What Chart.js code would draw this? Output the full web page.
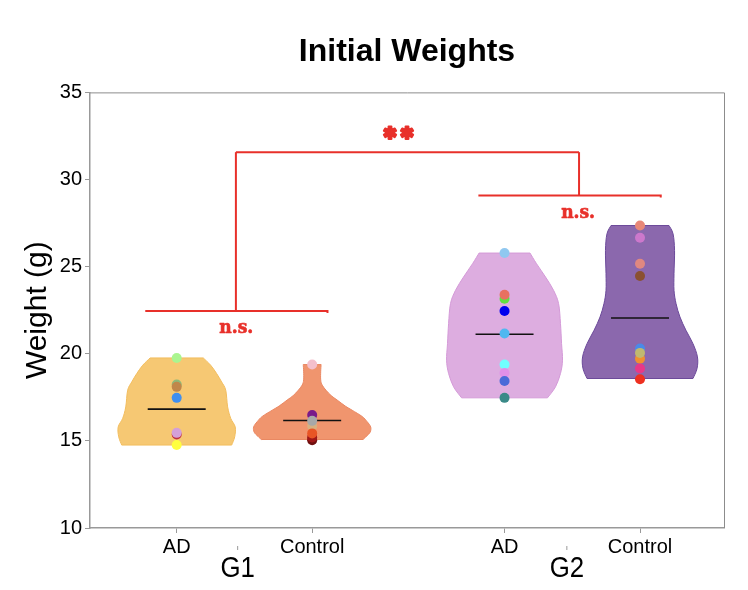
<!DOCTYPE html>
<html>
<head>
<meta charset="utf-8">
<script src="https://cdn.jsdelivr.net/npm/chart.js@4.4.1/dist/chart.umd.min.js"></script>
<style>
html,body{margin:0;padding:0;background:#fff;}
#wrap{width:748px;height:590px;}
</style>
</head>
<body>
<div id="wrap"><canvas id="c" width="748" height="590"></canvas></div>
<script>
// ---- data ----
const categories = ['AD', 'Control', 'AD', 'Control'];
const categoryPos = [1, 2, 3.42, 4.42];
const groupLabels = ['G1', 'G2'];
const groupPos = [1.45, 3.88];
const yTicks = [10, 15, 20, 25, 30, 35];

// individual animal weights (g)
const g1AD = [19.76, 18.24, 18.10, 17.47, 15.37, 15.46, 14.76];
const g1ADColors = ['#aaf590', '#8fb878', '#c0864a', '#3f8ff0', '#c03040', '#d4a0d8', '#ffff40'];
const g1Ctrl = [19.38, 16.48, 15.86, 16.15, 15.04, 15.20, 15.43];
const g1CtrlColors = ['#f4c0cc', '#7a1a8a', '#d8b080', '#a8a8a8', '#701010', '#a01818', '#e85525'];
const g2AD = [25.78, 23.16, 23.39, 22.45, 21.16, 19.38, 18.90, 18.44, 17.47];
const g2ADColors = ['#90c8f0', '#60e040', '#e87060', '#0000ee', '#50b8f0', '#70ffff', '#e090e8', '#4a6ad8', '#3a8a88'];
const g2Ctrl = [27.36, 26.66, 25.17, 24.46, 20.30, 19.72, 20.05, 19.15, 18.54];
const g2CtrlColors = ['#e88878', '#cc78cc', '#e08880', '#8a5030', '#4a8ae8', '#f09030', '#c0b870', '#e83888', '#ee3020'];

// violin outlines: weight levels and half-width (density)
const vG1ADw = [19.76, 19.34, 18.86, 18.38, 17.91, 16.95, 16.29, 15.80, 15.23, 14.76];
const vG1ADd = [0.196, 0.251, 0.295, 0.332, 0.362, 0.376, 0.399, 0.432, 0.428, 0.406];
const vG1Cw = [19.38, 19.0, 18.5, 18.2, 17.9, 17.6, 17.34, 17.0, 16.76, 16.4, 16.1, 15.8, 15.5, 15.25, 15.08];
const vG1Cd = [0.066, 0.063, 0.063, 0.074, 0.103, 0.140, 0.185, 0.244, 0.295, 0.369, 0.406, 0.432, 0.428, 0.399, 0.376];
const vG2ADw = [25.78, 25.17, 24.40, 23.64, 22.88, 21.73, 20.58, 19.63, 18.87, 18.10, 17.47];
const vG2ADd = [0.188, 0.236, 0.303, 0.362, 0.399, 0.413, 0.421, 0.428, 0.413, 0.376, 0.317];
const vG2Cw = [27.36, 26.88, 25.93, 24.60, 23.64, 22.88, 22.11, 21.35, 20.58, 19.82, 19.15, 18.58];
const vG2Cd = [0.214, 0.244, 0.255, 0.251, 0.251, 0.266, 0.295, 0.339, 0.391, 0.424, 0.421, 0.391];

const centerLines = [16.82, 16.17, 21.12, 22.05];

// significance brackets (x from, x to, y level) and labels
const brackets = [
  {x1: 0.768, x2: 2.113, y: 22.45, stem: 1.437, label: 'n.s.', lx: 1.44, ly: 21.50},
  {x1: 3.227, x2: 4.573, y: 29.08, stem: 3.97, label: 'n.s.', lx: 3.963, ly: 28.05}
];
const topBracket = {y: 31.57, label: '\u2731', lx: [2.573, 2.699], ly: 32.56};

// ---- styles ----
const violinFill = ['#f6c873', '#f0956e', '#ddade0', '#8b68ad'];
const violinEdge = ['#f2bd5e', '#ea8863', '#d49ad8', '#6c4a9a'];
const sigColor = '#e8302a';
const FONT = "'Liberation Sans', Arial, sans-serif";

const violins = [
  {pos: categoryPos[0], w: vG1ADw, d: vG1ADd},
  {pos: categoryPos[1], w: vG1Cw, d: vG1Cd},
  {pos: categoryPos[2], w: vG2ADw, d: vG2ADd},
  {pos: categoryPos[3], w: vG2Cw, d: vG2Cd}
];
const pointSets = [[g1AD, g1ADColors], [g1Ctrl, g1CtrlColors], [g2AD, g2ADColors], [g2Ctrl, g2CtrlColors]];

function spline(ctx, pts) {
  for (let i = 0; i < pts.length - 1; i++) {
    const p0 = pts[i - 1] || pts[i], p1 = pts[i], p2 = pts[i + 1], p3 = pts[i + 2] || pts[i + 1];
    ctx.bezierCurveTo(p1[0] + (p2[0] - p0[0]) / 6, p1[1] + (p2[1] - p0[1]) / 6,
                      p2[0] - (p3[0] - p1[0]) / 6, p2[1] - (p3[1] - p1[1]) / 6, p2[0], p2[1]);
  }
}

const violinPlugin = {
  id: 'violins',
  beforeDatasetsDraw(chart) {
    const {ctx, scales: {x, y}} = chart;
    ctx.save();
    violins.forEach((v, k) => {
      const R = v.w.map((w, i) => [x.getPixelForValue(v.pos + v.d[i]), y.getPixelForValue(w)]);
      const L = v.w.map((w, i) => [x.getPixelForValue(v.pos - v.d[i]), y.getPixelForValue(w)]).reverse();
      ctx.beginPath();
      ctx.moveTo(L[L.length - 1][0], L[L.length - 1][1]);
      ctx.lineTo(R[0][0], R[0][1]);
      spline(ctx, R);
      ctx.lineTo(L[0][0], L[0][1]);
      spline(ctx, L);
      ctx.closePath();
      ctx.fillStyle = violinFill[k];
      ctx.fill();
      ctx.lineWidth = 1;
      ctx.strokeStyle = violinEdge[k];
      ctx.stroke();
      // center line
      const yy = y.getPixelForValue(centerLines[k]);
      ctx.beginPath();
      ctx.moveTo(x.getPixelForValue(v.pos - 0.214), yy);
      ctx.lineTo(x.getPixelForValue(v.pos + 0.214), yy);
      ctx.strokeStyle = '#111';
      ctx.lineWidth = 1.6;
      ctx.stroke();
    });
    ctx.restore();
  },
  afterDatasetsDraw(chart) {
    const {ctx, chartArea: a, scales: {x, y}} = chart;
    ctx.save();
    // frame top/right
    ctx.strokeStyle = '#8c8c8c';
    ctx.lineWidth = 1;
    ctx.beginPath();
    ctx.moveTo(a.left, a.top + 0.5);
    ctx.lineTo(a.right + 0.5, a.top + 0.5);
    ctx.lineTo(a.right + 0.5, a.bottom);
    ctx.stroke();
    // brackets
    ctx.strokeStyle = sigColor;
    ctx.lineWidth = 2;
    const ty = y.getPixelForValue(topBracket.y);
    brackets.forEach(b => {
      const by = y.getPixelForValue(b.y);
      ctx.beginPath();
      ctx.moveTo(x.getPixelForValue(b.x1), by);
      ctx.lineTo(x.getPixelForValue(b.x2), by);
      ctx.lineTo(x.getPixelForValue(b.x2), by + 2);
      ctx.stroke();
      ctx.beginPath();
      ctx.moveTo(x.getPixelForValue(b.stem), by);
      ctx.lineTo(x.getPixelForValue(b.stem), ty);
      ctx.stroke();
    });
    ctx.beginPath();
    ctx.moveTo(x.getPixelForValue(brackets[0].stem), ty);
    ctx.lineTo(x.getPixelForValue(brackets[1].stem), ty);
    ctx.stroke();
    ctx.fillStyle = sigColor;
    ctx.textAlign = 'center';
    ctx.textBaseline = 'middle';
    ctx.font = "bold 19px 'DejaVu Serif Condensed', 'DejaVu Serif', serif";
    ctx.lineWidth = 0.6;
    ctx.lineJoin = 'round';
    brackets.forEach(b => {
      const tx = x.getPixelForValue(b.lx), tyy = y.getPixelForValue(b.ly);
      ctx.fillText(b.label, tx, tyy);
      ctx.strokeText(b.label, tx, tyy);
    });
    ctx.font = "17px 'DejaVu Sans', sans-serif";
    ctx.lineWidth = 2.2;
    topBracket.lx.forEach(lx => {
      const tx = x.getPixelForValue(lx), tyy = y.getPixelForValue(topBracket.ly);
      ctx.fillText(topBracket.label, tx, tyy);
      ctx.strokeText(topBracket.label, tx, tyy);
    });
    // group labels
    ctx.fillStyle = '#000';
    ctx.font = '30px ' + FONT;
    ctx.textBaseline = 'alphabetic';
    groupLabels.forEach((g, i) => {
      const gx = x.getPixelForValue(groupPos[i]);
      ctx.strokeStyle = '#999';
      ctx.lineWidth = 1;
      ctx.beginPath();
      ctx.moveTo(gx, a.bottom + 18);
      ctx.lineTo(gx, a.bottom + 22);
      ctx.stroke();
      ctx.save();
      ctx.translate(gx, a.bottom + 49);
      ctx.scale(0.86, 1);
      ctx.fillText(g, 0, 0);
      ctx.restore();
    });
    ctx.restore();
  }
};

const datasets = pointSets.map((ps, k) => ({
  data: ps[0].map(w => ({x: categoryPos[k], y: w})),
  backgroundColor: ps[1],
  pointRadius: 5,
  pointBorderWidth: 0,
  pointHoverRadius: 5
}));

new Chart(document.getElementById('c'), {
  type: 'scatter',
  data: {datasets},
  plugins: [violinPlugin],
  options: {
    responsive: false,
    animation: false,
    layout: {padding: {left: 0, right: 24, top: 0, bottom: 0}},
    plugins: {
      legend: {display: false},
      tooltip: {enabled: false},
      title: {
        display: true,
        fullSize: false,
        text: 'Initial Weights',
        color: '#000',
        font: {family: FONT, size: 32, weight: 'bold', lineHeight: 1.2},
        padding: {top: 33, bottom: 21}
      }
    },
    scales: {
      x: {
        type: 'linear',
        min: 0.36,
        max: 5.04,
        afterBuildTicks: s => { s.ticks = categoryPos.map(v => ({value: v})); },
        afterFit: s => { s.height = 62; },
        ticks: {
          callback: (v, i) => categories[i],
          color: '#000',
          font: {family: FONT, size: 20},
          padding: 2,
          autoSkip: false,
          maxRotation: 0
        },
        grid: {drawOnChartArea: false, drawTicks: true, tickLength: 5, color: '#999'},
        border: {color: '#999', width: 1.5}
      },
      y: {
        min: 10,
        max: 35,
        afterBuildTicks: s => { s.ticks = yTicks.map(v => ({value: v})); },
        afterFit: s => { s.width = 90; },
        ticks: {color: '#000', font: {family: FONT, size: 20}, padding: 3},
        grid: {drawOnChartArea: false, drawTicks: true, tickLength: 5, color: '#999'},
        border: {color: '#999', width: 1.5},
        title: {
          display: true,
          text: 'Weight (g)',
          color: '#000',
          font: {family: FONT, size: 30, lineHeight: 1.2},
          padding: {top: 20, bottom: 0}
        }
      }
    }
  }
});
</script>
</body>
</html>
